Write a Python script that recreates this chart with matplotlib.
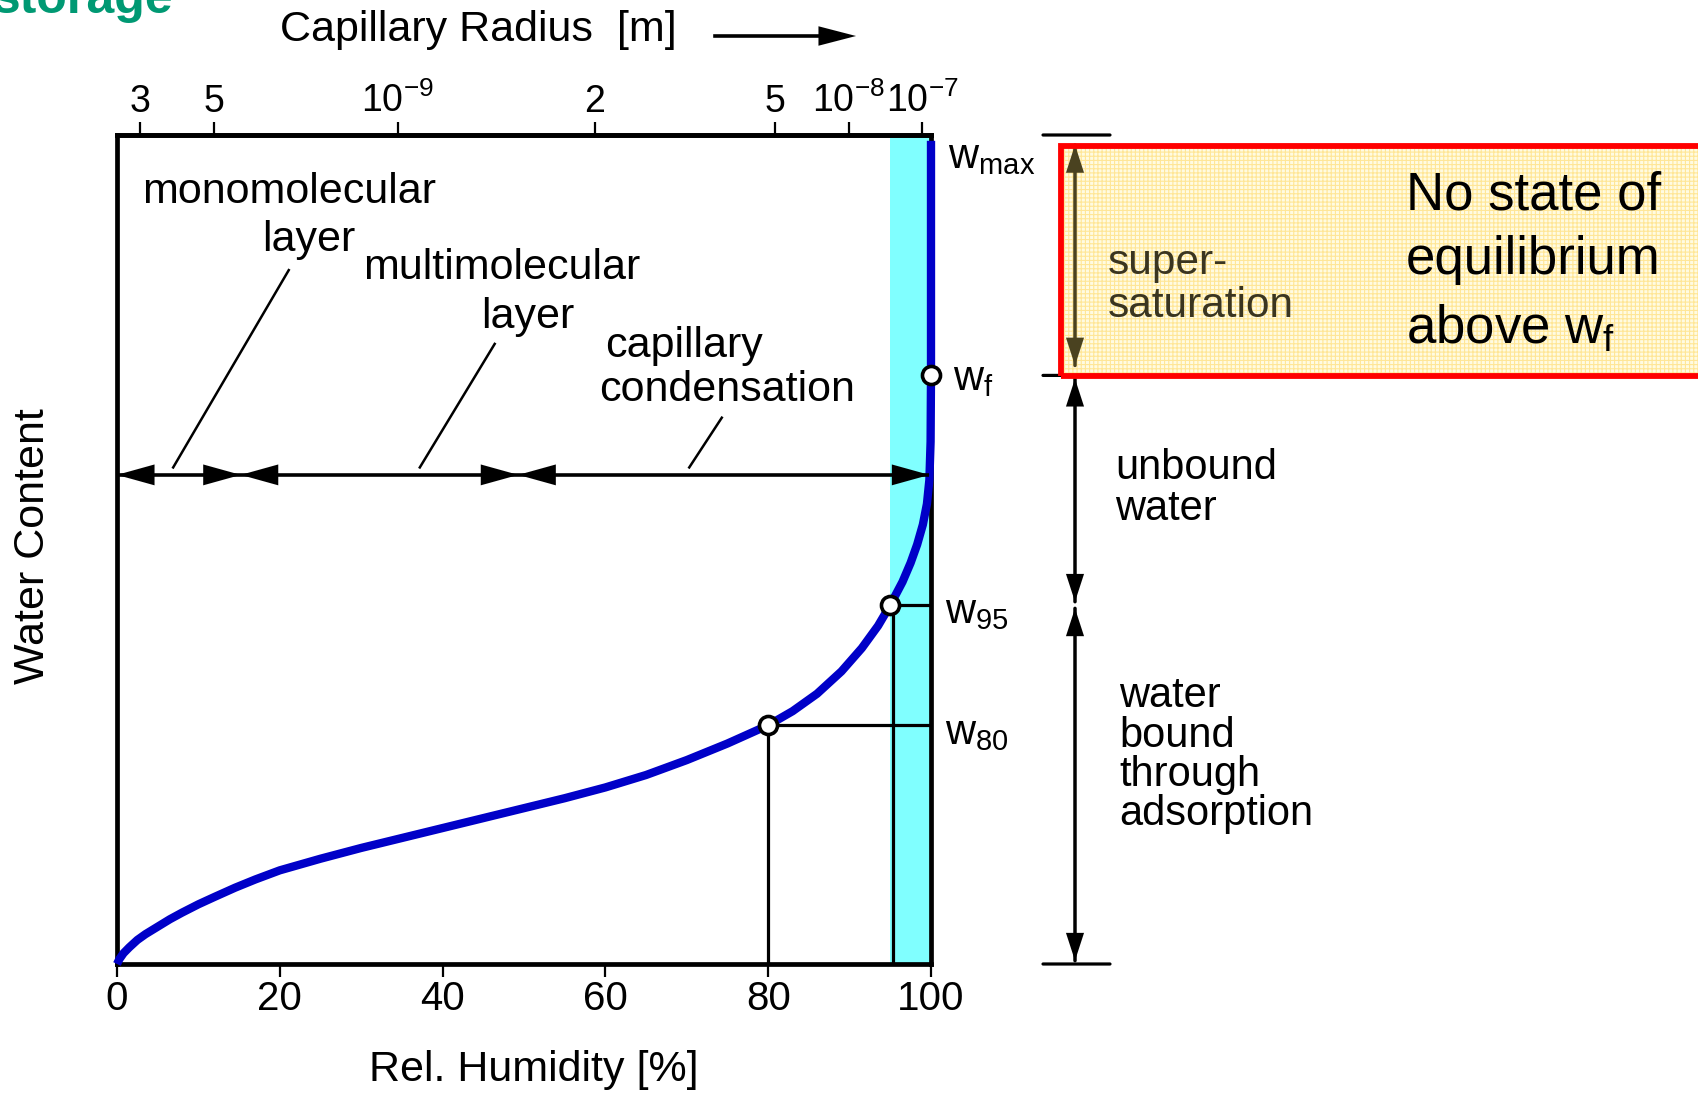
import numpy as np
import matplotlib
matplotlib.use("Agg")
import matplotlib.pyplot as plt
from matplotlib.patches import Rectangle

# ---------------- data ----------------
rh_curve = [0, 0.3, 0.8, 1.5, 2.5, 3.5, 5, 6.5, 8, 10, 12, 14.5, 17, 20, 25, 30,
            35, 40, 45, 50, 55, 60, 65, 70, 75, 80, 83, 86, 89, 91.5, 93.5, 95,
            96.5, 97.5, 98.3, 99.0, 99.5, 99.8, 99.95, 100, 100]
w_curve = [0, 0.006, 0.013, 0.020, 0.029, 0.036, 0.045, 0.054, 0.062, 0.072,
           0.081, 0.092, 0.102, 0.113, 0.127, 0.140, 0.152, 0.164, 0.176, 0.188,
           0.200, 0.213, 0.228, 0.246, 0.266, 0.288, 0.305, 0.326, 0.353, 0.381,
           0.408, 0.433, 0.461, 0.484, 0.506, 0.530, 0.555, 0.584, 0.630, 0.710,
           0.993]

marker_rh = [80, 95, 100]
marker_w = [0.288, 0.433, 0.710]
w_max = 1.0
w_f = 0.710
w_95 = 0.433

bottom_ticks = [0, 20, 40, 60, 80, 100]
radius_ticks = [3e-10, 5e-10, 1e-9, 2e-9, 5e-9, 1e-8, 1e-7]
radius_labels = ["3", "5", r"$\mathregular{10^{-9}}$", "2", "5",
                 r"$\mathregular{10^{-8}}$", r"$\mathregular{10^{-7}}$"]
kelvin_const = 1.065e-9   # m, RH = exp(-K / r)

cyan_band = (95, 100)
range_rh = [(0, 15.2), (15.2, 49.3), (49.3, 99.8)]
range_w = 0.590
region_texts = [("monomolecular", 21.1, 0.931), ("layer", 23.5, 0.873),
                ("multimolecular", 47.3, 0.840), ("layer", 50.4, 0.781),
                ("capillary", 69.7, 0.745), ("condensation", 74.9, 0.693)]
leaders = [((21.1, 0.837), (6.9, 0.599)),
           ((46.4, 0.748), (37.2, 0.599)),
           ((74.3, 0.659), (70.3, 0.599))]

FONT = "Liberation Sans"
plt.rcParams["font.family"] = [FONT, "DejaVu Sans"]
plt.rcParams["hatch.linewidth"] = 0.8

W, H = 1698, 1095
fig = plt.figure(figsize=(W / 100, H / 100), dpi=100)
fx = lambda px: px / W
fy = lambda py: 1 - py / H

ax = fig.add_axes([fx(117), fy(964), fx(931) - fx(117), fy(135) - fy(964)])
ax.set_xlim(0, 100)
ax.set_ylim(0, 1)
ax.set_yticks([])
for s in ax.spines.values():
    s.set_linewidth(3.4)
    s.set_zorder(1)

ax.axvspan(*cyan_band, color="#80FFFF", zorder=0, lw=0)

ax.set_xticks(bottom_ticks)
ax.tick_params(axis="x", direction="out", length=9.5, width=1.6,
               labelsize=29, pad=2)

sec = ax.secondary_xaxis("top")
pos = [100 * np.exp(-kelvin_const / r) for r in radius_ticks]
sec.set_xticks(pos, labels=radius_labels)
sec.tick_params(direction="out", length=9.5, width=1.6, labelsize=27, pad=1)
sec.spines["top"].set_linewidth(3.4)
for lbl in sec.get_xticklabels()[-2:]:
    pass

# reference lines for w80, w95
ax.plot([marker_rh[0], marker_rh[0]], [0, marker_w[0]], color="k", lw=2.3, zorder=2)
ax.plot([marker_rh[1] + 0.3, marker_rh[1] + 0.3], [0, marker_w[1]], color="k", lw=2.3, zorder=2)
ax.plot([marker_rh[0], 99.7], [marker_w[0], marker_w[0]], color="k", lw=2.3, zorder=2)
ax.plot([marker_rh[1], 99.7], [marker_w[1], marker_w[1]], color="k", lw=2.3, zorder=2)

# sorption curve
ax.plot(rh_curve, w_curve, color="#0000C8", lw=6, solid_capstyle="butt",
        solid_joinstyle="round", zorder=4, clip_on=False)
ax.plot(marker_rh, marker_w, "o", ms=13, mfc="white", mec="black", mew=2.6,
        zorder=5, clip_on=False)


def heads(a, b, coords, style, color, axes):
    """filled arrow heads only (no outline), tips exactly at a and b"""
    axes.annotate("", xy=b, xytext=a, xycoords=coords, textcoords=coords,
                  annotation_clip=False,
                  arrowprops=dict(arrowstyle=style, mutation_scale=1, lw=0.01,
                                  color=color, shrinkA=0, shrinkB=0), zorder=6)


# range arrows
for a, b in range_rh:
    ax.plot([a, b], [range_w, range_w], color="k", lw=2.6, zorder=6,
            solid_capstyle="butt")
    heads((a, range_w), (b, range_w), "data",
          "<|-|>,head_length=27,head_width=7.5", "k", ax)
for (x0, y0), (x1, y1) in leaders:
    ax.plot([x0, x1], [y0, y1], color="k", lw=1.8, zorder=3)
for t, x, y in region_texts:
    ax.text(x, y, t, ha="center", va="center", fontsize=31, zorder=6)

# w labels
wsz = 30
fig.text(fx(948), fy(157), r"w$_\mathregular{max}$", fontsize=wsz, va="center", ha="left")
fig.text(fx(953), fy(379), r"w$_\mathregular{f}$", fontsize=wsz, va="center", ha="left")
fig.text(fx(945), fy(612), r"w$_\mathregular{95}$", fontsize=wsz, va="center", ha="left")
fig.text(fx(945), fy(733), r"w$_\mathregular{80}$", fontsize=wsz, va="center", ha="left")

# axis labels and titles
fig.text(fx(534), fy(1070), "Rel. Humidity [%]", fontsize=31, ha="center", va="center")
fig.text(fx(33), fy(546), "Water Content", fontsize=31, rotation=90,
         ha="center", va="center")
fig.text(fx(478), fy(30), "Capillary Radius  [m]", fontsize=31, ha="center", va="center")
ff = "figure fraction"
fig.add_artist(plt.Line2D([fx(715), fx(830)], [fy(36), fy(36)], color="k", lw=2.6,
                          transform=fig.transFigure))
heads((fx(800), fy(36)), (fx(856), fy(36)), ff,
      "-|>,head_length=27,head_width=7", "k", ax)
fig.text(fx(173), fy(13), "storage", fontsize=36, fontweight="bold",
         color="#009973", ha="right", va="baseline")

# right-hand annotation: yellow box
box_x0, box_x1 = fx(1061), 1.01
ybox0, ybox1 = fy(376), fy(146)
fig.add_artist(Rectangle((box_x0, ybox0), box_x1 - box_x0, ybox1 - ybox0,
                         transform=fig.transFigure, facecolor="#FFFBE2",
                         edgecolor="none", zorder=-2))
fig.add_artist(Rectangle((box_x0, ybox0), box_x1 - box_x0, ybox1 - ybox0,
                         transform=fig.transFigure, facecolor="none",
                         edgecolor="#FFE696", hatch="++++", lw=0, zorder=-1))

# dimension lines
mix = ("figure fraction", "data")
xd = fx(1075)
for lev in [w_max, w_f, 0.0]:
    ax.annotate("", xy=(fx(1110), lev), xytext=(fx(1043), lev),
                xycoords=mix, textcoords=mix, annotation_clip=False,
                arrowprops=dict(arrowstyle="-", lw=2.3, color="k",
                                shrinkA=0, shrinkB=0))
segs = [(w_max - 0.012, w_f + 0.012, "#4a4220"), (w_f - 0.004, w_95 + 0.004, "k"),
        (w_95 - 0.004, 0.004, "k")]
for top, bot, col in segs:
    ax.annotate("", xy=(xd, bot), xytext=(xd, top), xycoords=mix, textcoords=mix,
                annotation_clip=False,
                arrowprops=dict(arrowstyle="-", lw=2.5, color=col,
                                shrinkA=0, shrinkB=0))
    heads((xd, top), (xd, bot), mix, "<|-|>,head_length=20,head_width=6.5", col, ax)

fig.add_artist(Rectangle((box_x0, ybox0), box_x1 - box_x0, ybox1 - ybox0,
                         transform=fig.transFigure, facecolor="none",
                         edgecolor="#FF0000", lw=4.2, zorder=3))

fig.text(fx(1108), fy(263), "super-", fontsize=30.5, color="#3a3520", ha="left", va="center")
fig.text(fx(1108), fy(306), "saturation", fontsize=30.5, color="#3a3520", ha="left", va="center")

for txt, y in [("No state of", 195), ("equilibrium", 260)]:
    fig.text(fx(1406), fy(y), txt, fontsize=38, ha="left", va="center")
fig.text(fx(1406), fy(328), r"above w$_\mathregular{f}$", fontsize=38,
         ha="left", va="center")

for txt, y in [("unbound", 468), ("water", 509)]:
    fig.text(fx(1115), fy(y), txt, fontsize=30, ha="left", va="center")
for txt, y in [("water", 696), ("bound", 736), ("through", 775), ("adsorption", 814)]:
    fig.text(fx(1119), fy(y), txt, fontsize=30, ha="left", va="center")

fig.savefig("out.png", dpi=100, facecolor="white")
